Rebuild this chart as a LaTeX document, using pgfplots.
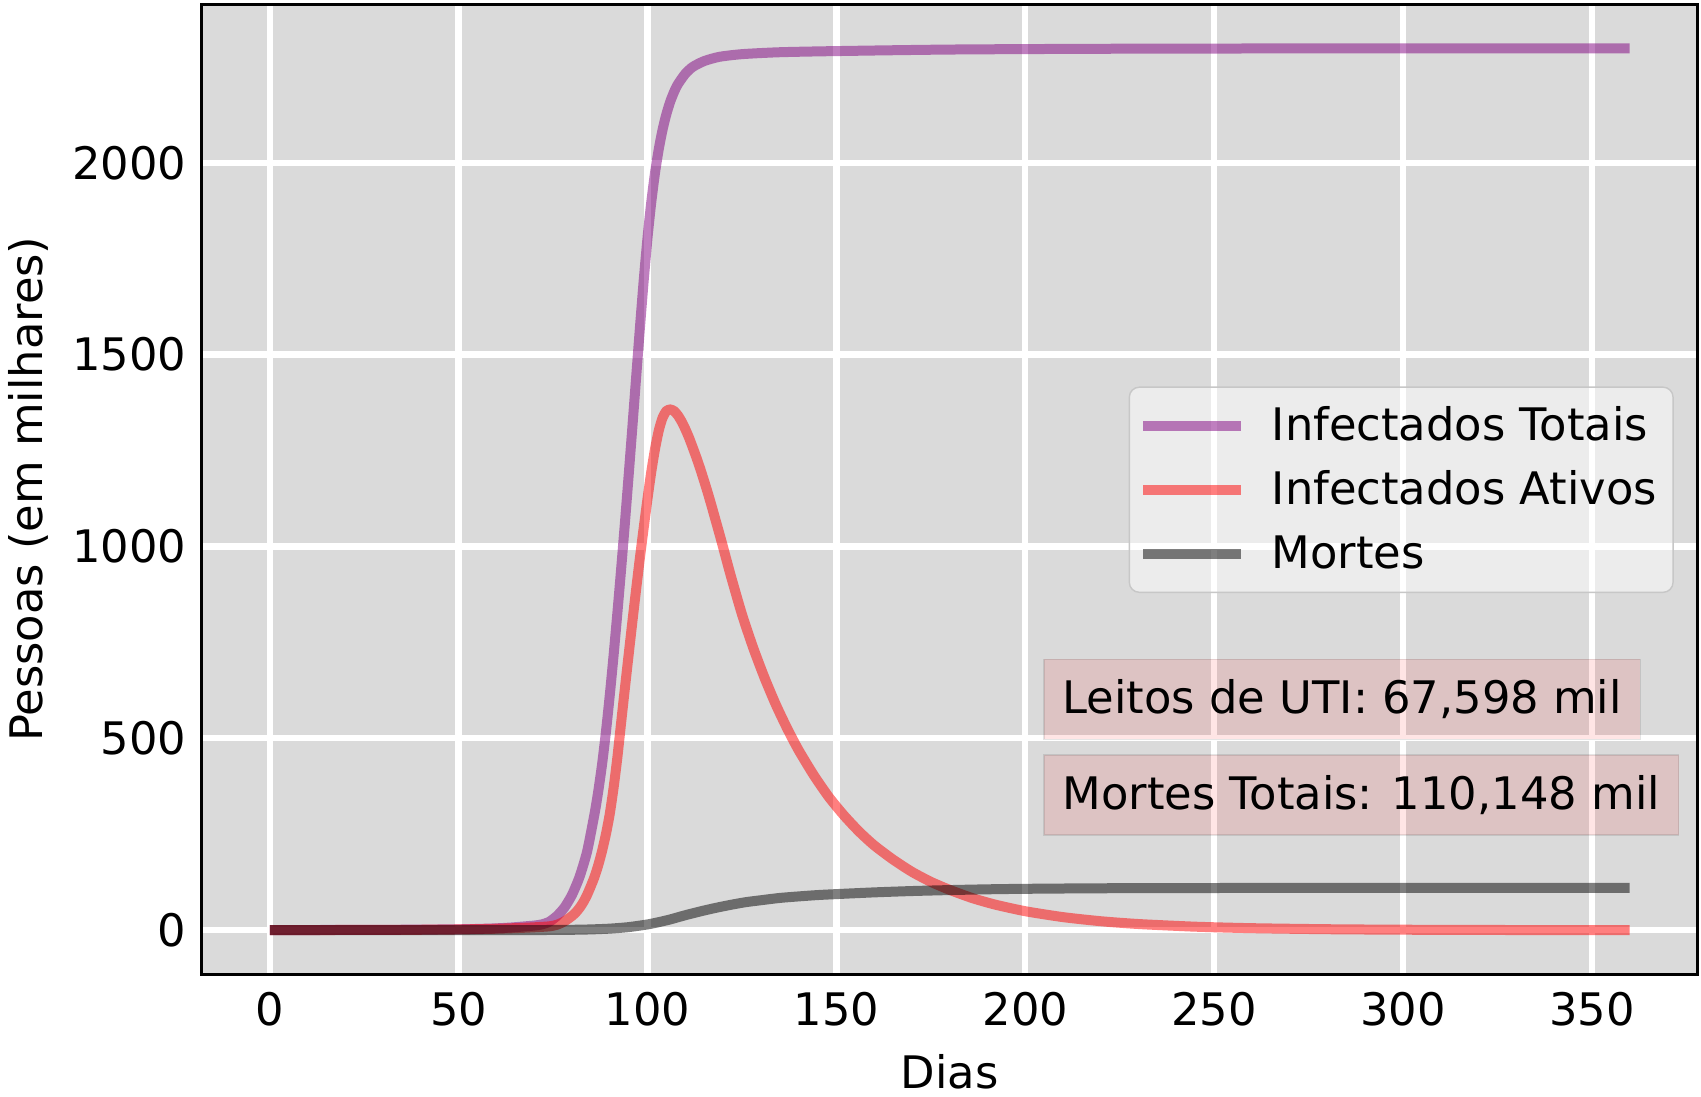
\documentclass[border=0pt]{standalone}
\usepackage{fontspec}
\setmainfont{DejaVu Sans}
\usepackage{pgfplots}
\pgfplotsset{compat=1.18}
\definecolor{bg}{RGB}{218,218,218}
\definecolor{mplpurple}{RGB}{128,0,128}
\definecolor{mplred}{RGB}{255,0,0}
\newcommand{\fs}{\fontsize{12.75}{15}\selectfont}

\pgfplotstableread{
d v
0 0.3
10 0.4
20 0.6
30 0.9
40 1.4
50 2.3
55 3.2
60 4.8
64 7
67 9.5
70 12
72 15
74 22
76 37
78 59
80 92
82 139
84 205
86 305
87 365
88 435
89 518
90 612
91 715
92 825
93 940
94 1060
95 1185
96 1313
97 1443
98 1572
99 1695
100 1805
101 1898
102 1975
103 2037
104 2087
105 2127
106 2159
107 2184
108 2204
110 2232
112 2250
115 2265
119 2276
125 2283
135 2288
150 2291
180 2295
220 2297
280 2298
360 2298
}\totais

\pgfplotstableread{
d v
0 0.3
20 0.5
40 1.1
50 1.9
60 3.8
65 5.3
70 7.5
74 10
76 14
78 23
80 37
81 46
82 58
83 73
84 92
85 115
86 140
87 171
88 208
89 251
90 303
91 370
92 449
93 540
94 630
95 718
96 805
97 890
98 972
99 1050
100 1125
101 1195
102 1255
103 1303
104 1336
105 1353
106 1357
107 1353
108 1342
109 1326
110 1306
111 1283
112 1257
113 1230
114 1201
115 1170
116 1138
117 1104
118 1069
119 1034
120 998
122 925
125 823
128 735
131 657
134 587
137 525
140 469
144 404
148 347
152 299
156 257
160 221
165 184
170 152
175 126
180 105
186 83.5
192 66.7
200 49.4
210 34
220 23.3
230 16
245 9.1
260 5.2
280 2.5
300 1.2
330 0.4
360 0.1
}\ativos

\pgfplotstableread{
d v
0 0
50 0.1
70 0.3
80 1
85 2
90 4
95 8
100 15
103 21
106 28
110 39
114 49
118 58
122 66
126 73
130 78
135 84
140 88
145 91.5
150 94
160 98.5
170 102
180 104.5
190 106.5
200 107.8
220 109.2
250 109.9
300 110.1
360 110.148
}\mortes

\begin{document}
\begin{tikzpicture}
\begin{axis}[
  width=149.6mm, height=97.0mm, scale only axis,
  xmin=-18, xmax=378, ymin=-114.9, ymax=2412.9,
  axis background/.style={fill=bg},
  axis line style={line width=0.9pt, black},
  xtick={0,50,...,350}, ytick={0,500,...,2000},
  major tick length=0pt,
  grid=major,
  major grid style={white, line width=1.8pt},
  tick label style={font=\fs},
  /pgf/number format/assume math mode=true,
  /pgf/number format/1000 sep={},
  xticklabel style={anchor=base, yshift=-5.09mm},
  yticklabel style={anchor=east, xshift=-0.3mm},
  every axis x label/.style={at={(rel axis cs:0.5,0)}, anchor=base, yshift=-11.38mm, inner sep=0pt, font=\fs},
  every axis y label/.style={at={(rel axis cs:0,0.5)}, xshift=-15.28mm, rotate=90, anchor=south, inner sep=0pt, font=\fs},
  xlabel={Dias}, ylabel={Pessoas (em milhares)},
  legend style={at={(0.984,0.606)}, anchor=north east, fill=white, fill opacity=0.5, text opacity=1,
    draw=black!22, draw opacity=1, rounded corners=1mm, inner xsep=0.9mm, inner ysep=1.2mm,
    row sep=1.13mm, font=\fs, nodes={inner sep=0.7mm},
    /tikz/every odd column/.append style={column sep=1.85mm}},
  legend cell align=left,
  legend image code/.code={\draw[#1] (0mm,0mm) -- (9.8mm,0mm);},
]
\addplot[mplpurple, line width=1mm, opacity=0.5, smooth, tension=0.4] table[x=d,y=v] {\totais};
\addlegendentry{Infectados Totais}
\addplot[mplred, line width=1mm, opacity=0.5, smooth, tension=0.4] table[x=d,y=v] {\ativos};
\addlegendentry{Infectados Ativos}
\addplot[black, line width=1mm, opacity=0.5, smooth, tension=0.4] table[x=d,y=v] {\mortes};
\addlegendentry{Mortes}
\node[anchor=west, fill=mplred, fill opacity=0.1, draw=black, draw opacity=0.1, text opacity=1,
  minimum height=8mm, inner xsep=1.85mm, font=\fs] at (axis cs:204.8,601.8) {Leitos de UTI: 67,598 mil};
\node[anchor=west, fill=mplred, fill opacity=0.1, draw=black, draw opacity=0.1, text opacity=1,
  minimum height=8mm, inner xsep=1.85mm, font=\fs] at (axis cs:204.8,351.8) {Mortes Totais: 110,148 mil};
\end{axis}
\path ([xshift=-20.18mm,yshift=-12.18mm]current axis.south west) rectangle ([xshift=0.33mm,yshift=0.43mm]current axis.north east);
\end{tikzpicture}
\end{document}
